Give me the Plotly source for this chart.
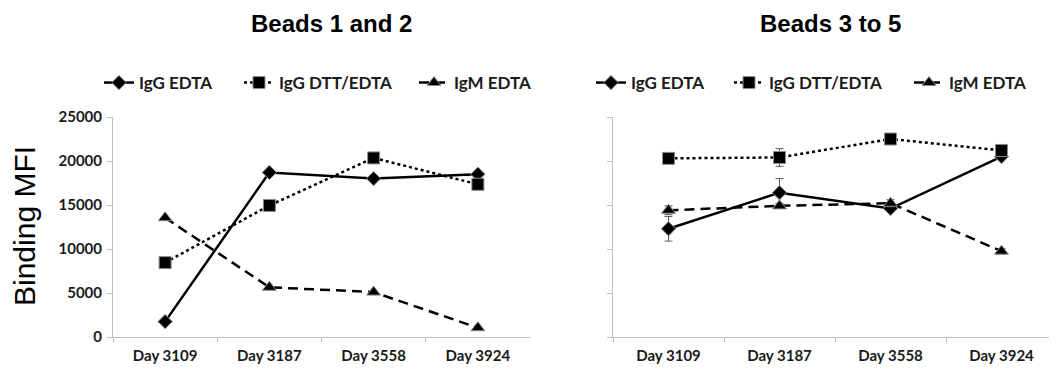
import plotly.graph_objects as go

days = ["Day 3109", "Day 3187", "Day 3558", "Day 3924"]
series_names = ["IgG EDTA", "IgG DTT/EDTA", "IgM EDTA"]

# Beads 1 and 2
left_igg_edta = [1750, 18700, 18000, 18500]
left_igg_dtt = [8450, 14950, 20350, 17350]
left_igm_edta = [13550, 5650, 5100, 1050]

# Beads 3 to 5
right_igg_edta = [12300, 16400, 14600, 20500]
right_igg_dtt = [20300, 20400, 22500, 21200]
right_igm_edta = [14400, 14900, 15200, 9750]
right_err_igg_edta = [1400, 1600, 200, 200]
right_err_igg_dtt = [500, 1000, 200, 200]
right_err_igm_edta = [500, 300, 400, 300]

y_ticks = [0, 5000, 10000, 15000, 20000, 25000]

BX, BY = 8, 8
W, H = 1057 - BX, 376 - BY


def px(x):
    return (x - BX) / W


def py(y):
    return 1 - (y - BY) / H


styles = [
    dict(dash="solid", symbol="diamond", size=11),
    dict(dash="dot", symbol="square", size=12),
    dict(dash="10px,6px", symbol="triangle-up", size=12),
]

fig = go.Figure()
left_vals = [left_igg_edta, left_igg_dtt, left_igm_edta]
right_vals = [right_igg_edta, right_igg_dtt, right_igm_edta]
right_errs = [right_err_igg_edta, right_err_igg_dtt, right_err_igm_edta]

for i, (name, vals, st) in enumerate(zip(series_names, left_vals, styles)):
    fig.add_trace(go.Scatter(
        x=days, y=vals, name=name, mode="lines+markers",
        line=dict(color="black", width=2.5, dash=st["dash"]),
        marker=dict(symbol=st["symbol"], size=st["size"], color="black",
                    line=dict(color="#8c8c8c", width=1)),
        xaxis="x", yaxis="y", legend=f"legend{i + 2}",
    ))

for i, (name, vals, errs, st) in enumerate(zip(series_names, right_vals, right_errs, styles)):
    fig.add_trace(go.Scatter(
        x=days, y=vals, name=name, mode="lines+markers",
        line=dict(color="black", width=2.5, dash=st["dash"]),
        marker=dict(symbol=st["symbol"], size=st["size"], color="black",
                    line=dict(color="#8c8c8c", width=1)),
        error_y=dict(type="data", array=errs, visible=True, color="#595959",
                     thickness=1, width=4),
        xaxis="x2", yaxis="y2", legend=f"legend{i + 5}",
    ))

tick_font = dict(family="Lato", size=15, color="#1a1a1a", weight="bold")
axis_common = dict(showline=True, linecolor="#bfbfbf", linewidth=1,
                   ticks="outside", ticklen=5, tickcolor="#bfbfbf",
                   showgrid=False, zeroline=False, tickfont=tick_font)

ylo = py(337)
yhi = py(117)
cat_range = [-0.5, len(days) - 0.5]

legend_text_x = [143, 283, 458, 635, 773, 953]
legends = {}
for k, tx in enumerate(legend_text_x):
    legends[f"legend{k + 2}"] = dict(
        orientation="h", x=px(tx - 44), xanchor="left",
        y=py(83), yanchor="middle",
        font=dict(family="Lato", size=17, color="#1a1a1a", weight="bold"),
        bgcolor="rgba(0,0,0,0)",
    )

fig.update_layout(
    width=W, height=H,
    margin=dict(l=0, r=0, t=0, b=0, autoexpand=False),
    paper_bgcolor="white", plot_bgcolor="white",
    showlegend=True,
    xaxis=dict(domain=[px(113), px(530)], type="category", range=cat_range,
               tickson="boundaries", anchor="y", ticklabelstandoff=5,
               **axis_common),
    yaxis=dict(domain=[ylo, yhi], range=[0, 25000], tickvals=y_ticks,
               tickformat="d", anchor="x", ticklabelstandoff=2,
               **axis_common),
    xaxis2=dict(domain=[px(613), 1.0], type="category", range=cat_range,
                tickson="boundaries", anchor="y2", ticklabelstandoff=5,
                **axis_common),
    yaxis2=dict(domain=[ylo, yhi], range=[0, 25000], tickvals=y_ticks,
                showticklabels=False, anchor="x2", **axis_common),
    annotations=[
        dict(text="<b>Beads 1 and 2</b>", x=px(331), y=py(23),
             xanchor="center", yanchor="middle",
             xref="paper", yref="paper", showarrow=False,
             font=dict(family="Liberation Sans", size=24, color="black")),
        dict(text="<b>Beads 3 to 5</b>", x=px(830), y=py(23),
             xanchor="center", yanchor="middle",
             xref="paper", yref="paper", showarrow=False,
             font=dict(family="Liberation Sans", size=24, color="black")),
        dict(text="Binding MFI", x=px(24), y=py(226),
             xanchor="center", yanchor="middle",
             xref="paper", yref="paper", showarrow=False, textangle=-90,
             font=dict(family="Liberation Sans", size=30, color="black")),
    ],
    **legends,
)

fig.write_html("out.html")
